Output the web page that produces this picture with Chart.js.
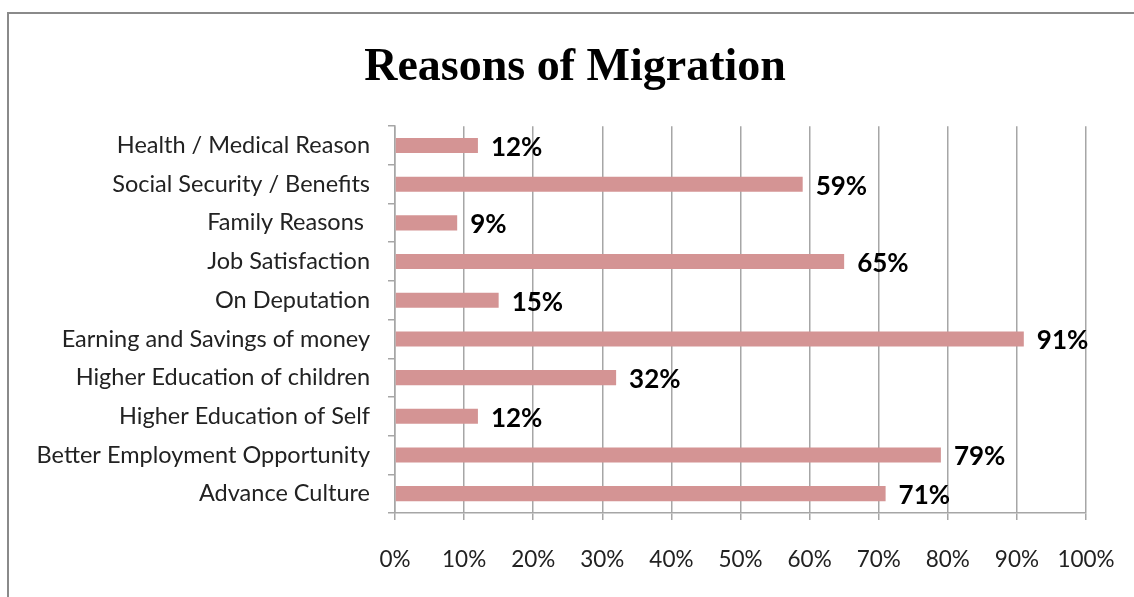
<!DOCTYPE html>
<html>
<head>
<meta charset="utf-8">
<script src="https://cdn.jsdelivr.net/npm/chart.js@4.4.1/dist/chart.umd.min.js"></script>
<style>
  html, body { margin: 0; padding: 0; background: #fff; overflow: hidden; }
  #frame { position: absolute; left: 7px; top: 12px; width: 1200px; height: 700px; border: 2px solid #8a8a8a; box-sizing: border-box; }
  #wrap { position: absolute; left: 0; top: 0; width: 1134px; height: 597px; }
</style>
</head>
<body>
<div id="frame"></div>
<div id="wrap"><canvas id="c" width="1134" height="597"></canvas></div>
<script>
const categories = [
  "Health / Medical Reason",
  "Social Security / Benefits",
  "Family Reasons ",
  "Job Satisfaction",
  "On Deputation",
  "Earning and Savings of money",
  "Higher Education of children",
  "Higher Education of Self",
  "Better Employment Opportunity",
  "Advance Culture"
];
const percentages = [12, 59, 9, 65, 15, 91, 32, 12, 79, 71];
const xTickValues = [0, 10, 20, 30, 40, 50, 60, 70, 80, 90, 100];

const FONT = "Lato, 'Open Sans', sans-serif";

const valueLabels = {
  id: 'valueLabels',
  afterDatasetsDraw(chart) {
    const ctx = chart.ctx;
    const meta = chart.getDatasetMeta(0);
    ctx.save();
    ctx.font = "bold 26px " + FONT;
    ctx.fillStyle = "#000";
    ctx.textAlign = "left";
    ctx.textBaseline = "middle";
    meta.data.forEach((bar, i) => {
      ctx.fillText(percentages[i] + "%", bar.x + 13, bar.y + 2);
    });
    ctx.restore();
  }
};

new Chart(document.getElementById('c'), {
  type: 'bar',
  data: {
    labels: categories,
    datasets: [{
      data: percentages,
      backgroundColor: '#D49494',
      borderWidth: 0,
      barPercentage: 0.39,
      categoryPercentage: 1.0
    }]
  },
  options: {
    indexAxis: 'y',
    responsive: false,
    animation: false,
    layout: { padding: { left: 16, right: 0, top: 0, bottom: 0 } },
    plugins: {
      legend: { display: false },
      tooltip: { enabled: false },
      title: {
        display: true,
        text: 'Reasons of Migration',
        color: '#000',
        font: { family: "'Liberation Serif', 'Times New Roman', serif", size: 46, weight: 'bold', lineHeight: 1.2 },
        padding: { top: 41, bottom: 30 }
      }
    },
    scales: {
      x: {
        min: 0,
        max: 100,
        afterBuildTicks(scale) { scale.ticks = xTickValues.map(v => ({ value: v })); },
        afterFit(scale) { scale.paddingRight = 48; scale.height = 84; },
        ticks: {
          callback: v => v + '%',
          color: '#222',
          font: { family: FONT, size: 22.5 },
          padding: 26,
          maxRotation: 0
        },
        grid: { color: '#a6a6a6', lineWidth: 1.5, tickLength: 7, drawOnChartArea: true },
        border: { display: true, color: '#a6a6a6', width: 1.5 }
      },
      y: {
        afterFit(scale) { scale.width = 379; },
        ticks: {
          color: '#222',
          font: { family: FONT, size: 23.5 },
          padding: 18
        },
        grid: { color: '#a6a6a6', lineWidth: 1.5, tickLength: 7, drawOnChartArea: false, offset: true },
        border: { display: true, color: '#a6a6a6', width: 1.5 }
      }
    }
  },
  plugins: [valueLabels]
});
</script>
</body>
</html>
